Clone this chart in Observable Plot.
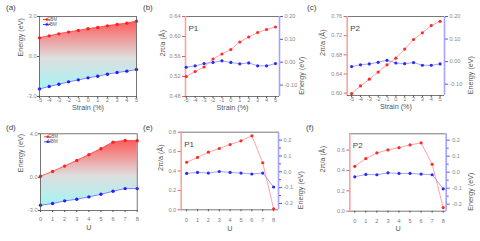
<!DOCTYPE html>
<html><head><meta charset="utf-8">
<script src="https://cdn.jsdelivr.net/npm/d3@7"></script>
<script src="https://cdn.jsdelivr.net/npm/@observablehq/plot@0.6"></script>
<style>
body{margin:0;background:#fff;}
#root{position:relative;width:480px;height:241px;overflow:hidden;font-family:"Liberation Sans",Arial,sans-serif;}
#root svg{position:absolute;}
.lab{position:absolute;font-size:8px;line-height:1;color:#444;}
</style></head><body><div id="root"></div><script>
// ---- data ----
const strain = [-5,-4,-3,-2,-1,0,1,2,3,4,5];
const uVals = [0,1,2,3,4,5,6,7,8];
const cbmStrain = [1.40,1.55,1.70,1.83,1.95,2.08,2.18,2.30,2.40,2.50,2.65];
const vbmStrain = [-2.43,-2.25,-2.08,-1.90,-1.75,-1.60,-1.48,-1.33,-1.20,-1.10,-0.98];
const cbmU = [0.12,0.57,1.05,1.57,2.09,2.63,3.24,3.39,3.36];
const vbmU = [-2.52,-2.36,-2.12,-1.97,-1.76,-1.52,-1.24,-1.00,-1.00];
const p1StrainA = [0.520,0.530,0.539,0.555,0.565,0.574,0.589,0.599,0.608,0.614,0.619];
const p1StrainE = [-0.022,-0.016,-0.006,-0.001,0.006,-0.001,-0.007,-0.003,-0.016,-0.016,-0.006];
const p2StrainA = [0.599,0.615,0.629,0.644,0.659,0.673,0.692,0.712,0.726,0.741,0.750];
const p2StrainE = [-0.022,-0.014,-0.010,-0.003,0.006,-0.006,-0.009,-0.004,-0.016,-0.016,-0.010];
const p1UA = [0.49,0.54,0.594,0.632,0.673,0.711,0.763,0.485,0.01];
const p1UE = [-0.010,-0.004,-0.008,0.002,-0.004,-0.008,-0.014,-0.008,-0.096];
const p2UA = [0.441,0.517,0.572,0.602,0.624,0.651,0.671,0.461,0.036];
const p2UE = [-0.029,-0.014,-0.016,-0.004,-0.008,-0.008,-0.012,-0.016,-0.104];
const bandTicksA = [-3,0,3];
const bandTicksD = [-3,0,4];
const p1StrainTicks = [0.48,0.52,0.56,0.60,0.64];
const p2StrainTicks = [0.60,0.64,0.68,0.72,0.76];
const uATicks = [0,0.2,0.4,0.6,0.8];
const uATicksF = [0,0.2,0.4,0.6];
const eStrainTicks = [-0.1,0,0.1,0.2];
const eUTicks = [-0.2,-0.1,0,0.1,0.2];
const eUMinor = [-0.15,-0.05,0.05,0.15];
const legendLabels = ["CBM","VBM"];
const panelLabels = ["(a)","(b)","(c)","(d)","(e)","(f)"];

const root = document.getElementById("root");
const FONT = "'Liberation Sans', Arial, sans-serif";
const baseStyle = {background:"transparent", fontFamily:FONT, fontSize:"5.6px", overflow:"visible"};
function place(svg, left, top){ svg.style.left = left+"px"; svg.style.top = top+"px"; root.appendChild(svg); }
const T = (s, o) => Plot.text([s], {text:d=>d, fontSize:7.2, fill:"#555", ...o});
const fmt = (spec) => { const f = d3.format(spec); return d => f(d).replace("\u2212","-"); };
const intFmt = d => String(d);

function band(c){
  const data = c.xs.map((x,i)=>({x, c:c.cbm[i], v:c.vbm[i]}));
  const p = Plot.plot({width:c.w, height:c.h, marginLeft:c.m[0], marginRight:c.m[1], marginTop:c.m[2], marginBottom:c.m[3],
    style:baseStyle, x:{domain:c.xDomain}, y:{domain:c.yDomain},
    marks:[
      Plot.areaY(data,{x:"x",y1:"v",y2:"c",fill:`url(#${c.gid})`}),
      Plot.line(data,{x:"x",y:"c",stroke:"#ff5050",strokeWidth:0.8}),
      Plot.line(data,{x:"x",y:"v",stroke:"#5a5aff",strokeWidth:0.8}),
      Plot.dot(data,{x:"x",y:"c",fill:"#ff2020",r:1.7}),
      Plot.dot(data,{x:"x",y:"v",fill:"#2020ff",r:1.7}),
      Plot.frame({stroke:"#555",strokeWidth:0.8}),
      Plot.axisX({ticks:c.xTicks, tickFormat:intFmt, tickSize:2, tickPadding:c.xPad, fill:"#777", stroke:"#555", label:null}),
      Plot.axisY({ticks:c.yTicks, tickFormat:fmt(".1f"), tickSize:2, tickPadding:1, fill:"#888", stroke:"#555", label:null}),
      T(c.xTitle,{frameAnchor:"bottom", dy:c.xTitleDy}),
      T("Energy (eV)",{frameAnchor:"left", dx:c.yTitleDx, rotate:-90})
    ]});
  d3.select(p).insert("defs", ":first-child").html(`<linearGradient id="${c.gid}" x1="0" y1="0" x2="0" y2="1"><stop offset="0" stop-color="#ff5a5a"/><stop offset="0.55" stop-color="#dedede"/><stop offset="1" stop-color="#a6f4f4"/></linearGradient>`);
  const g = d3.select(p).append("g").attr("font-size", 4.5).attr("fill", "#666");
  [["#ff2020",0],["#2020ff",1]].forEach(([col,i])=>{
    const y = c.m[2] + 3.5 + i*5;
    g.append("line").attr("x1", c.m[0]+4).attr("x2", c.m[0]+11.5).attr("y1", y).attr("y2", y).attr("stroke", col).attr("stroke-width", 0.8);
    g.append("circle").attr("cx", c.m[0]+7.7).attr("cy", y).attr("r", 1.3).attr("fill", col);
    g.append("text").attr("x", c.m[0]+13).attr("y", y).attr("dy","0.35em").text(legendLabels[i]);
  });
  place(p, c.left, c.top);
}

function dual(c){
  const dA = c.xs.map((x,i)=>({x, y:c.a[i]}));
  const dE = c.xs.map((x,i)=>({x, y:c.e[i]}));
  const common = {width:c.w, height:c.h, marginLeft:c.m[0], marginRight:c.m[1], marginTop:c.m[2], marginBottom:c.m[3], style:baseStyle};
  const pa = Plot.plot({...common, x:{domain:c.xDomain}, y:{domain:c.aDomain},
    marks:[
      Plot.ruleY(c.aDomain,{stroke:"#555",strokeWidth:0.8}),
      Plot.ruleX([c.xDomain[0]],{stroke:"#f8a4a4",strokeWidth:1.6}),
      Plot.axisX({ticks:c.xTicks, tickFormat:intFmt, tickSize:2, tickPadding:c.xPad, fill:"#777", stroke:"#555", label:null}),
      Plot.axisY({ticks:c.aTicks, tickFormat:fmt(c.aFmt), tickSize:3, tickPadding:2, fill:"#888", stroke:"#f55", label:null}),
      Plot.line(dA,{x:"x",y:"y",stroke:"#ff8c8c",strokeWidth:0.8}),
      Plot.dot(dA,{x:"x",y:"y",fill:"#ff2a2a",r:1.6}),
      T(c.xTitle,{frameAnchor:"bottom", dy:c.xTitleDy}),
      T("2π/a (Å)",{frameAnchor:"left", dx:c.aTitleDx, rotate:-90}),
      Plot.text([c.pLabel],{text:d=>d, frameAnchor:"top-left", dx:3, dy:9, textAnchor:"start", fontSize:8, fill:"#444"})
    ]});
  place(pa, c.left, c.top);
  const marksB = [
      Plot.ruleX([c.xDomain[1]],{stroke:"#a4a4ff",strokeWidth:1.6}),
      Plot.axisY({anchor:"right", ticks:c.eTicks, tickFormat:fmt(c.eFmt), tickSize:3, tickPadding:c.ePad, fill:"#888", stroke:"#55f", label:null}),
      c.eMinor ? Plot.axisY({anchor:"right", ticks:c.eMinor, tickFormat:()=>"", tickSize:2, stroke:"#55f", label:null}) : null,
      Plot.line(dE,{x:"x",y:"y",stroke:"#8c8cff",strokeWidth:0.8}),
      Plot.dot(dE,{x:"x",y:"y",fill:"#2a2aff",r:1.6}),
      T("Energy (eV)",{frameAnchor:"right", dx:c.eTitleDx, rotate:-90})
  ].filter(Boolean);
  const pb = Plot.plot({...common, x:{domain:c.xDomain, axis:null}, y:{domain:c.eDomain}, marks:marksB});
  place(pb, c.left, c.top);
}

band({left:0, top:0, w:160, h:120, m:[39,24,16,24], xs:strain, cbm:cbmStrain, vbm:vbmStrain,
  xDomain:[-5,5], yDomain:[-3,3], xTicks:strain, yTicks:bandTicksA, xPad:0, xTitle:"Strain (%)", xTitleDy:13, yTitleDx:-19, gid:"gradA"});
band({left:0, top:120, w:160, h:121, m:[40,23.3,13.3,31], xs:uVals, cbm:cbmU, vbm:vbmU,
  xDomain:[0,8], yDomain:[-3,4], xTicks:uVals, yTicks:bandTicksD, xPad:5, xTitle:"U", xTitleDy:19, yTitleDx:-20, gid:"gradD"});

dual({left:160, top:0, w:160, h:120, m:[25,41,16,24], xs:strain, a:p1StrainA, e:p1StrainE,
  xDomain:[-5.08,5.45], xTicks:strain, xPad:0, aDomain:[0.48,0.64], aTicks:p1StrainTicks, aFmt:".2f",
  eDomain:[-0.15,0.2], eTicks:eStrainTicks, eFmt:".2f", ePad:2, xTitle:"Strain (%)", xTitleDy:13, aTitleDx:-23, eTitleDx:22, pLabel:"P1"});
dual({left:320, top:0, w:160, h:120, m:[26.7,36,16,25], xs:strain, a:p2StrainA, e:p2StrainE,
  xDomain:[-5.5,5.5], xTicks:strain, xPad:0, aDomain:[0.595,0.76], aTicks:p2StrainTicks, aFmt:".2f",
  eDomain:[-0.15,0.2], eTicks:eStrainTicks, eFmt:".2f", ePad:2, xTitle:"Strain (%)", xTitleDy:13, aTitleDx:-25, eTitleDx:26, pLabel:"P2"});
dual({left:160, top:120, w:160, h:121, m:[20.7,42,11.7,31.7], xs:uVals, a:p1UA, e:p1UE,
  xDomain:[-0.5,8.45], xTicks:uVals, xPad:6, aDomain:[0,0.8], aTicks:uATicks, aFmt:".1f",
  eDomain:[-0.24,0.25], eTicks:eUTicks, eMinor:eUMinor, eFmt:".1f", ePad:2, xTitle:"U", xTitleDy:20.7, aTitleDx:-20.7, eTitleDx:22, pLabel:"P1"});
dual({left:320, top:120, w:160, h:121, m:[29.3,34.3,13.3,30.3], xs:uVals, a:p2UA, e:p2UE,
  xDomain:[-0.45,8.27], xTicks:uVals, xPad:6, aDomain:[0,0.76], aTicks:uATicksF, aFmt:".1f",
  eDomain:[-0.244,0.24], eTicks:eUTicks, eMinor:eUMinor, eFmt:".1f", ePad:3, xTitle:"U", xTitleDy:19.7, aTitleDx:-27, eTitleDx:24, pLabel:"P2"});

const labPos = [[6,4],[143,4],[307,4],[6,124],[143,124],[306,124]];
panelLabels.forEach((t,i)=>{
  const d = document.createElement("div"); d.className="lab"; d.textContent=t;
  d.style.left = labPos[i][0]+"px"; d.style.top = labPos[i][1]+"px"; root.appendChild(d);
});
</script></body></html>
